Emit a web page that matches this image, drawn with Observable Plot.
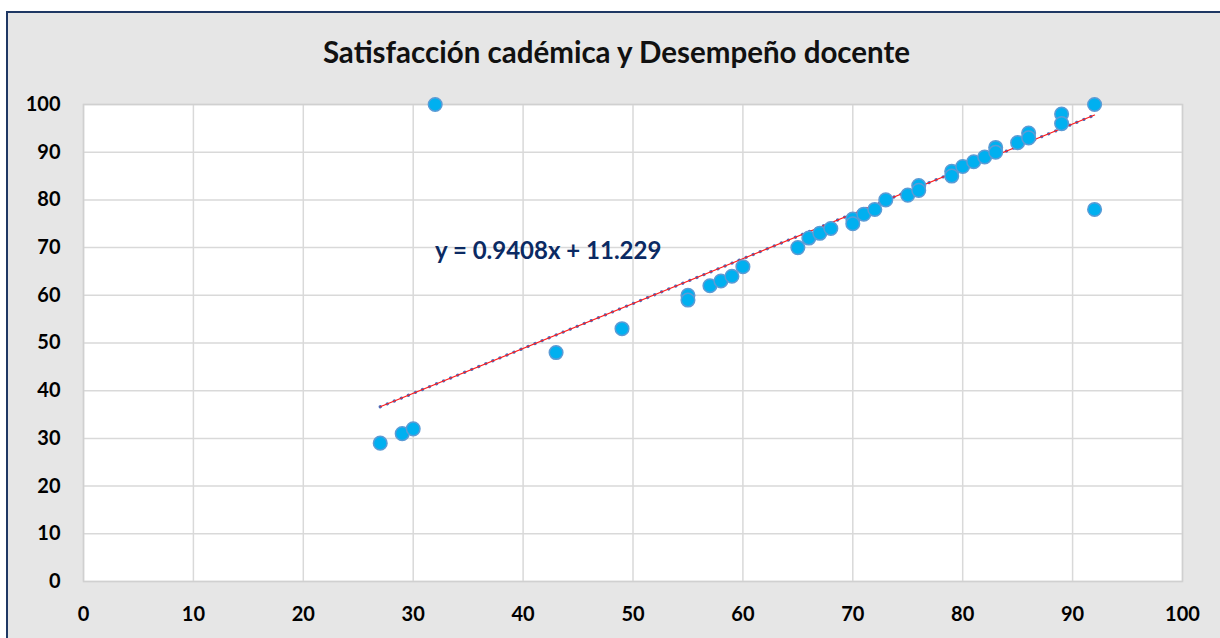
<!DOCTYPE html>
<html>
<head>
<meta charset="utf-8">
<script src="https://cdn.jsdelivr.net/npm/d3@7"></script>
<script src="https://cdn.jsdelivr.net/npm/@observablehq/plot@0.6"></script>
<style>
  html, body { margin: 0; padding: 0; width: 1220px; height: 638px; overflow: hidden; background: #ffffff; }
  #frame { position: absolute; left: 6px; top: 11px; width: 1300px; height: 700px; background: #e6e6e6;
           border-left: 2px solid #1f3864; border-top: 2px solid #1f3864; }
  #title { position: absolute; left: 0; top: 35px; width: 1233px; text-align: center;
           font-family: Lato, sans-serif; font-weight: bold; font-size: 29.5px; color: #111; line-height: 34px; }
  #eq { position: absolute; left: 435px; top: 235px; font-family: Lato, sans-serif; font-weight: bold;
        font-size: 24px; color: #0b2a63; line-height: 30px; white-space: nowrap; }
  #chart { position: absolute; left: 0; top: 0; }
</style>
</head>
<body>
<div id="frame"></div>
<div id="chart"></div>
<div id="title">Satisfacción cadémica y Desempeño docente</div>
<div id="eq"></div>
<script>
// Data
const satisfaccion = [27, 29, 30, 32, 43, 49, 55, 55, 57, 58, 59, 60, 65, 66, 67, 68, 70, 70, 71, 72, 73, 75, 76, 76, 79, 79, 80, 81, 82, 83, 83, 85, 86, 86, 89, 89, 92, 92];
const desempeno    = [29, 31, 32, 100, 48, 53, 60, 59, 62, 63, 64, 66, 70, 72, 73, 74, 76, 75, 77, 78, 80, 81, 83, 82, 86, 85, 87, 88, 89, 91, 90, 92, 94, 93, 98, 96, 100, 78];
const xTicks = [0, 10, 20, 30, 40, 50, 60, 70, 80, 90, 100];
const yTicks = [0, 10, 20, 30, 40, 50, 60, 70, 80, 90, 100];
const slope = 0.9408;
const intercept = 11.229;

const points = satisfaccion.map((x, i) => ({x, y: desempeno[i]}));
const xMin = d3.min(satisfaccion), xMax = d3.max(satisfaccion);
const trend = [xMin, xMax].map(x => ({x, y: slope * x + intercept}));

document.getElementById("eq").textContent = `y = ${slope}x + ${intercept}`;

const chart = Plot.plot({
  width: 1220,
  height: 638,
  marginLeft: 83,
  marginRight: 38,
  marginTop: 104,
  marginBottom: 57,
  style: {fontFamily: "Lato, sans-serif", fontSize: "20px", fontWeight: "bold", color: "#000", background: "transparent"},
  x: {domain: [0, 100], ticks: xTicks, tickSize: 0, tickPadding: 25, label: null},
  y: {domain: [0, 100], ticks: yTicks, tickSize: 0, tickPadding: 23, label: null},
  marks: [
    Plot.frame({fill: "white", stroke: "none"}),
    Plot.gridX(xTicks, {stroke: "#d9d9d9", strokeOpacity: 1, strokeWidth: 1.5}),
    Plot.gridY(yTicks, {stroke: "#d9d9d9", strokeOpacity: 1, strokeWidth: 1.5}),
    Plot.frame({stroke: "#d0d0d0", strokeWidth: 1.5}),
    Plot.axisX({ticks: xTicks, tickSize: 0, tickPadding: 25, fill: "#000"}),
    Plot.axisY({ticks: yTicks, tickSize: 0, tickPadding: 23, fill: "#000"}),
    Plot.line(trend, {x: "x", y: "y", stroke: "#4472c4", strokeWidth: 3.2, strokeDasharray: "0.1,7.5", strokeLinecap: "round"}),
    Plot.line(trend, {x: "x", y: "y", stroke: "#ff1a1a", strokeWidth: 1.1}),
    Plot.dot(points, {x: "x", y: "y", r: 6.8, fill: "#00b0f0", stroke: "#5b9bd5", strokeWidth: 1.5})
  ]
});
document.getElementById("chart").appendChild(chart);
</script>
</body>
</html>
